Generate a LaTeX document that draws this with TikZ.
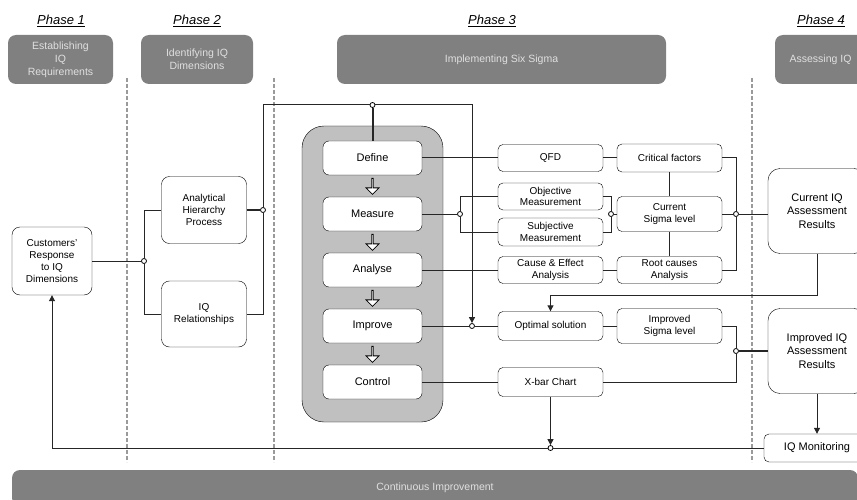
\documentclass[tikz,border=0pt]{standalone}
\usepackage{fontspec}
\setmainfont{Liberation Sans}
\usetikzlibrary{shapes.arrows,arrows.meta}
\definecolor{headgray}{HTML}{808080}
\definecolor{boxgray}{HTML}{C0C0C0}
\definecolor{sepgray}{HTML}{9A9A9A}
\tikzset{
        head/.style={fill=headgray, rounded corners=8pt, text=white!88!black, minimum height=49pt, align=center, inner sep=0pt, font=\fontsize{10.5}{13}\selectfont},
        phase/.style={font=\fontsize{13}{15}\selectfont\itshape},
        box/.style={draw, fill=white, rounded corners=8pt, align=center, inner sep=0pt, font=\fontsize{10}{12.2}\selectfont},
        stage/.style={draw, fill=white, rounded corners=6pt, minimum width=99pt, minimum height=34pt, inner sep=0pt, font=\fontsize{11}{13}\selectfont},
        item/.style={draw, fill=white, rounded corners=5pt, minimum width=105pt, align=center, inner sep=0pt, font=\fontsize{10}{11.5}\selectfont},
        result/.style={draw, fill=white, rounded corners=12pt, minimum width=98pt, minimum height=85pt, align=center, inner sep=0pt, font=\fontsize{11}{13.5}\selectfont},
        dot/.style={circle, draw, fill=white, inner sep=0pt, minimum size=5pt, line width=0.8pt},
        flow/.style={single arrow, draw, fill=white, line width=0.8pt, shape border rotate=270, inner sep=0pt, minimum height=16pt, minimum width=13pt, single arrow head extend=3pt},
        sep/.style={draw=sepgray, line width=1.5pt, dash pattern=on 4pt off 2pt},
        link/.style={draw=black!85, line width=1pt}
    }

\begin{document}
\begin{tikzpicture}[x=1pt, y=-1pt, >={Triangle[length=6pt,width=6pt]}]
            \useasboundingbox (0,0) rectangle (857,500);
            \clip (0,0) rectangle (857,500);

            % phases
            \node [phase] (p1) at (61,21)  {\underline{Phase 1}};
            \node [phase] (p2) at (197,21) {\underline{Phase 2}};
            \node [phase] (p3) at (492,21) {\underline{Phase 3}};
            \node [phase] (p4) at (821,21) {\underline{Phase 4}};

            \node [head, minimum width=105pt] (h1) at (60.5,59.5)  {Establishing\\IQ\\Requirements};
            \node [head, minimum width=112pt] (h2) at (197,59.5)   {Identifying IQ\\Dimensions};
            \node [head, minimum width=329pt] (h3) at (501.5,59.5) {Implementing Six Sigma};
            \node [head, minimum width=91pt]  (h4) at (820.5,59.5) {Assessing IQ};

            \draw [sep] (127,78) -- (127,462);
            \draw [sep] (274,78) -- (274,462);
            \draw [sep] (752,78) -- (752,462);

            % phase 1 and 2
            \node [box, minimum width=80pt, minimum height=68pt] (cust)  at (52,261)  {Customers’\\Response\\to IQ\\Dimensions};
            \node [box, minimum width=85pt, minimum height=67pt] (ahp)   at (204,210) {Analytical\\Hierarchy\\Process};
            \node [box, minimum width=85pt, minimum height=66pt] (iqrel) at (204,314) {IQ\\Relationships};

            % phase 3
            \node [draw, fill=boxgray, rounded corners=22pt, minimum width=141pt, minimum height=296pt] (dmaic) at (372.5,274) {};
            \node [stage] (define)  at (372.5,158) {Define};
            \node [stage] (measure) at (372.5,214) {Measure};
            \node [stage] (analyse) at (372.5,270) {Analyse};
            \node [stage] (improve) at (372.5,326) {Improve};
            \node [stage] (control) at (372.5,382) {Control};
            \node [flow] (a1) at (372.5,186) {};
            \node [flow] (a2) at (372.5,242) {};
            \node [flow] (a3) at (372.5,298) {};
            \node [flow] (a4) at (372.5,354) {};

            \node [item, minimum height=27pt] (qfd)   at (550.5,158) {QFD};
            \node [item, minimum height=27pt] (obj)   at (550.5,196.5) {Objective\\Measurement};
            \node [item, minimum height=28pt] (subj)  at (550.5,232) {Subjective\\Measurement};
            \node [item, minimum height=27pt] (cause) at (550.5,270) {Cause \& Effect\\Analysis};
            \node [item, minimum height=29pt] (opt)   at (550.5,326) {Optimal solution};
            \node [item, minimum height=29pt] (xbar)  at (550.5,382) {X-bar Chart};

            \node [item, minimum height=28pt] (crit)  at (669.5,158) {Critical factors};
            \node [item, minimum height=35pt] (cur)   at (669.5,214) {Current\\Sigma level};
            \node [item, minimum height=27pt] (root)  at (669.5,270) {Root causes\\Analysis};
            \node [item, minimum height=35pt] (imp)   at (669.5,326) {Improved\\Sigma level};

            % phase 4
            \node [result] (curiq) at (817,211) {Current IQ\\Assessment\\Results};
            \node [result] (impiq) at (817,351) {Improved IQ\\Assessment\\Results};
            \node [item, minimum width=106pt, minimum height=28pt, font=\fontsize{11}{13}\selectfont] (mon) at (817,448) {IQ Monitoring};

            \node [head, minimum width=846pt, minimum height=36pt] (ci) at (435,488) {Continuous Improvement};

            % junctions
            \node [dot] (j1) at (144,261) {};
            \node [dot] (j2) at (263,210) {};
            \node [dot] (j3) at (372.5,105) {};
            \node [dot] (j4) at (472,326) {};
            \node [dot] (j5) at (460,214) {};
            \node [dot] (j6) at (611,214) {};
            \node [dot] (j7) at (736,214) {};
            \node [dot] (j8) at (736,351) {};
            \node [dot] (j9) at (550.5,448) {};
            \coordinate (bend) at (817,295);

            \draw [link] (cust) -- (j1);
            \draw [link] (j1) |- (ahp);
            \draw [link] (j1) |- (iqrel);
            \draw [link, line width=2pt] (ahp) -- (j2);
            \draw [link] (iqrel) -| (j2);
            \draw [link] (j2) |- (j3);
            \draw [link, ->] (j3) -| (j4);
            \draw [link, line width=2pt] (j3) -- (define);

            \draw [link] (define) -- (qfd);
            \draw [link] (qfd) -- (crit);
            \draw [link] (measure) -- (j5);
            \draw [link] (j5) |- (obj);
            \draw [link] (j5) |- (subj);
            \draw [link] (obj) -| (j6);
            \draw [link] (subj) -| (j6);
            \draw [link] (j6) -- (cur);
            \draw [link] (analyse) -- (cause);
            \draw [link] (cause) -- (root);
            \draw [link] (crit) -- (cur);
            \draw [link] (cur) -- (root);
            \draw [link] (crit) -| (j7);
            \draw [link] (root) -| (j7);
            \draw [link] (cur) -- (j7);
            \draw [link] (j7) -- (j7 -| curiq.west);

            \draw [link, ->] (curiq) -- (bend) -| (opt);
            \draw [link] (improve) -- (j4);
            \draw [link] (j4) -- (opt);
            \draw [link] (opt) -- (imp);
            \draw [link] (imp) -| (j8);
            \draw [link] (xbar) -| (j8);
            \draw [link, line width=2pt] (j8) -- (impiq);
            \draw [link] (control) -- (xbar);

            \draw [link, ->] (impiq) -- (mon);
            \draw [link, ->] (xbar) -- (j9);
            \draw [link] (mon) -- (j9);
            \draw [link, ->] (j9) -| (cust);
        \end{tikzpicture}
\end{document}
